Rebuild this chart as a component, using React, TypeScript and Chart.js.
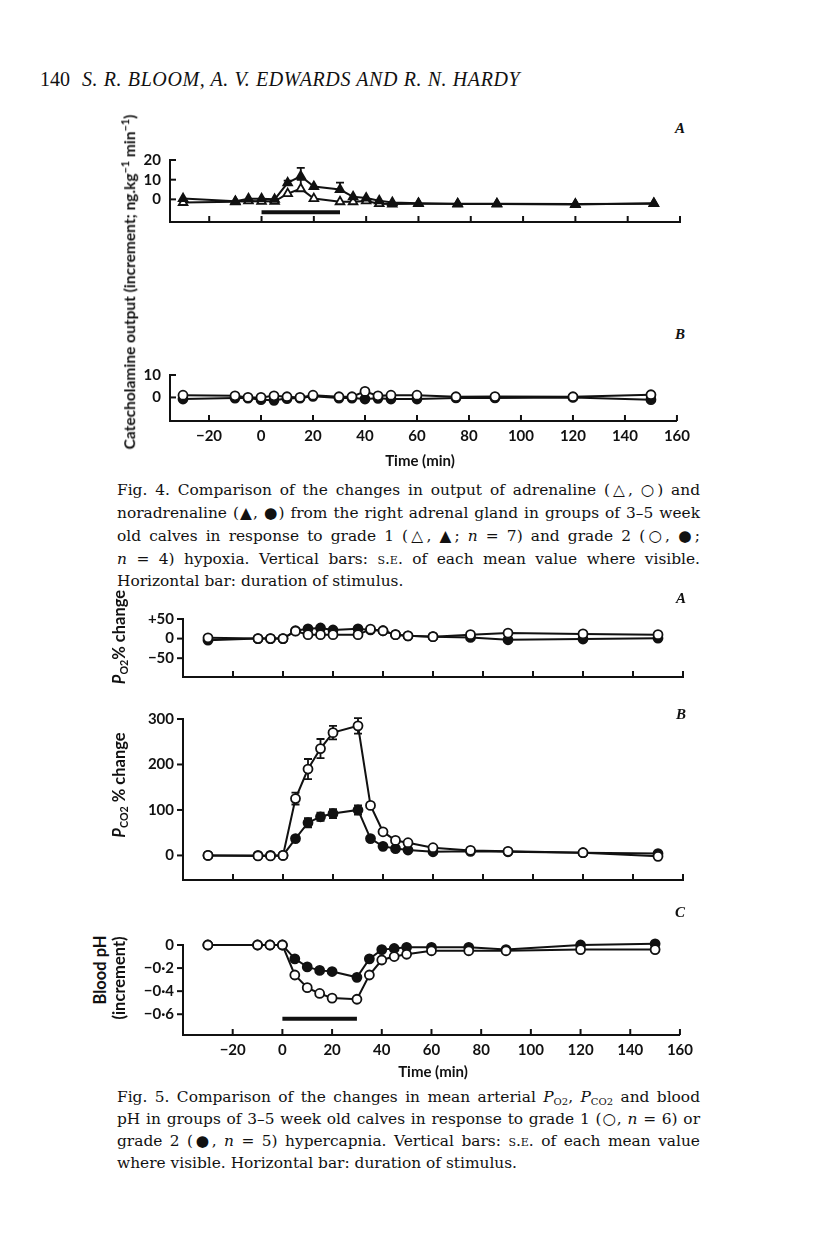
import React, { useEffect, useRef } from 'react';
import { Chart, registerables } from 'chart.js';
Chart.register(...registerables);

// ---------- DATA ----------
const times = [-30, -10, -5, 0, 5, 10, 15, 20, 30, 35, 40, 45, 50, 60, 75, 90, 120, 150];
const xTickValues = [-20, 0, 20, 40, 60, 80, 100, 120, 140, 160];
const xTickLabels = ['\u221220', '0', '20', '40', '60', '80', '100', '120', '140', '160'];
const stimulusStart = 0;
const stimulusEnd = 30;

// Fig 4A: grade 1 hypoxia (triangles)
const fig4aAdrenaline = [-1.6, -1.2, -0.8, -1, -1, 2.9, 5.4, 0.4, -1.2, -1.2, -0.8, -2.2, -2.4, -2.2, -2.2, -2.2, -2.4, -2.2];
const fig4aAdrenalineSe = [0, 0, 0, 0, 0, 0, 4.5, 0, 0, 0, 0, 0, 0, 0, 0, 0, 0, 0];
const fig4aNoradrenaline = [0.4, -1, 0.3, 0.3, 0, 8.4, 11.8, 6.5, 5, 1.3, 0.7, -0.7, -1.6, -2, -2.4, -2.4, -2.6, -2];
const fig4aNoradrenalineSe = [0, 0, 0, 0, 0, 1.1, 4.2, 0, 3.5, 0, 0, 0, 0, 0, 0, 0, 0, 0];
const fig4aStimulusY = -6.5;
const fig4aYTicks = [20, 10, 0];
const fig4aYLabels = ['20', '10', '0'];

// Fig 4B: grade 2 hypoxia (circles)
const fig4bAdrenaline = [1, 0.7, 0, 0, 0.7, 0.3, 0, 1, 0.3, 0.3, 2.7, 0.7, 1, 1, 0.3, 0.4, 0.3, 1.2];
const fig4bNoradrenaline = [-0.7, -0.3, -0.3, -1, -1.3, -0.5, -0.3, 0.5, -0.3, -0.3, -0.7, -0.4, -0.7, -0.7, -0.2, -0.2, 0, -1];
const fig4bYTicks = [10, 0];
const fig4bYLabels = ['10', '0'];

// Fig 5A: Po2 % change
const fig5aGrade1 = [2, 0, 0, 0, 19, 10, 10, 10, 10, 24, 20, 10, 7, 5, 10, 14, 12, 10];
const fig5aGrade2 = [-4, 0, 0, 0, 20, 25, 27, 22, 25, 22, 20, 10, 7, 5, 3, -3, -1, 1];
const fig5aYTicks = [50, 0, -50];
const fig5aYLabels = ['+50', '0', '\u221250'];

// Fig 5B: Pco2 % change
const fig5bGrade1 = [0, -1, -1, 0, 125, 190, 235, 270, 285, 110, 52, 33, 28, 17, 11, 9, 6, -2];
const fig5bGrade1Se = [0, 0, 0, 0, 13, 22, 21, 15, 17, 0, 0, 0, 0, 0, 0, 0, 0, 0];
const fig5bGrade2 = [0, 0, 0, 0, 37, 72, 85, 92, 100, 37, 20, 15, 12, 8, 9, 8, 6, 4];
const fig5bGrade2Se = [0, 0, 0, 0, 5, 10, 9, 10, 10, 0, 0, 0, 0, 0, 0, 0, 0, 0];
const fig5bYTicks = [300, 200, 100, 0];
const fig5bYLabels = ['300', '200', '100', '0'];

// Fig 5C: blood pH increment
const fig5cGrade1 = [0, 0, 0, 0, -0.26, -0.37, -0.42, -0.46, -0.47, -0.26, -0.13, -0.1, -0.08, -0.05, -0.05, -0.05, -0.04, -0.04];
const fig5cGrade2 = [0, 0, 0, 0, -0.12, -0.19, -0.22, -0.23, -0.28, -0.12, -0.04, -0.03, -0.02, -0.02, -0.02, -0.04, 0, 0.01];
const fig5cStimulusY = -0.64;
const fig5cYTicks = [0, -0.2, -0.4, -0.6];
const fig5cYLabels = ['0', '\u22120\u00b72', '\u22120\u00b74', '\u22120\u00b76'];

// ---------- CHART HELPERS ----------
const TICK_FONT = { family: 'Lato', size: 15, weight: 'bold' as const };

type Series = { values: number[]; se?: number[]; upOnly?: boolean; marker: 'openTri' | 'fillTri' | 'openCirc' | 'fillCirc' };
type PanelSpec = {
  left: number; top: number; right: number; bottom: number;
  xMin: number; xMax: number; yMin: number; yMax: number;
  yTicks: number[]; yLabels: string[]; yTickDir: 1 | -1;
  showXLabels: boolean;
  series: Series[];
  stimulusY?: number;
};

const Y_W = 60, PAD_T = 12, PAD_R = 16;

const inwardTicks = {
  id: 'inwardTicks',
  afterDraw(chart: any) {
    const { ctx, chartArea } = chart;
    const xs = chart.scales.x, ys = chart.scales.y;
    const dir = chart.options.plugins.inwardTicks.yDir;
    ctx.save();
    ctx.strokeStyle = '#111';
    ctx.lineWidth = 2;
    xs.ticks.forEach((t: any) => {
      const px = xs.getPixelForValue(t.value);
      ctx.beginPath();
      ctx.moveTo(px, chartArea.bottom);
      ctx.lineTo(px, chartArea.bottom - 6);
      ctx.stroke();
    });
    ys.ticks.forEach((t: any) => {
      const py = ys.getPixelForValue(t.value);
      ctx.beginPath();
      ctx.moveTo(chartArea.left, py);
      ctx.lineTo(chartArea.left + 6 * dir, py);
      ctx.stroke();
    });
    ctx.restore();
  },
};

const errorBars = {
  id: 'errorBars',
  afterDatasetsDraw(chart: any) {
    const { ctx } = chart;
    const ys = chart.scales.y;
    ctx.save();
    ctx.strokeStyle = '#111';
    ctx.lineWidth = 1.8;
    chart.data.datasets.forEach((ds: any, i: number) => {
      if (!ds.se) return;
      const meta = chart.getDatasetMeta(i);
      meta.data.forEach((pt: any, j: number) => {
        const e = ds.se[j];
        if (!e) return;
        const v = ds.data[j].y;
        const x = pt.x;
        const r = 4.5;
        const yTop = ys.getPixelForValue(v + e);
        ctx.beginPath();
        ctx.moveTo(x, pt.y - r);
        ctx.lineTo(x, yTop);
        ctx.moveTo(x - 4, yTop);
        ctx.lineTo(x + 4, yTop);
        if (!ds.upOnly) {
          const yBot = ys.getPixelForValue(v - e);
          ctx.moveTo(x, pt.y + r);
          ctx.lineTo(x, yBot);
          ctx.moveTo(x - 4, yBot);
          ctx.lineTo(x + 4, yBot);
        }
        ctx.stroke();
      });
    });
    ctx.restore();
  },
};

function makeDataset(s: Series) {
  const tri = s.marker === 'openTri' || s.marker === 'fillTri';
  const filled = s.marker === 'fillTri' || s.marker === 'fillCirc';
  return {
    data: times.map((t, i) => ({ x: t, y: s.values[i] })),
    se: s.se,
    upOnly: s.upOnly,
    borderColor: '#111',
    borderWidth: 2,
    pointStyle: tri ? 'triangle' : 'circle',
    pointRadius: tri ? 5 : 4.5,
    pointBackgroundColor: filled ? '#111' : '#fff',
    pointBorderColor: '#111',
    pointBorderWidth: 1.8,
    tension: 0,
    fill: false,
    clip: false,
  };
}

function PanelChart({ spec }: { spec: PanelSpec }) {
  const ref = useRef<HTMLCanvasElement>(null);
  const xH = spec.showXLabels ? 34 : 8;
  const width = spec.right - spec.left + Y_W + PAD_R;
  const height = spec.bottom - spec.top + PAD_T + xH;
  useEffect(() => {
    if (!ref.current) return;
    const datasets: any[] = spec.series.map(makeDataset);
    if (spec.stimulusY !== undefined) {
      datasets.push({
        data: [{ x: stimulusStart, y: spec.stimulusY }, { x: stimulusEnd, y: spec.stimulusY }],
        borderColor: '#111',
        borderWidth: 4,
        pointRadius: 0,
        fill: false,
      });
    }
    const chart = new Chart(ref.current, {
      type: 'line',
      data: { datasets },
      options: {
        animation: false,
        responsive: false,
        devicePixelRatio: 1,
        layout: { padding: { top: PAD_T, right: PAD_R, left: 0, bottom: 0 } },
        plugins: { legend: { display: false }, tooltip: { enabled: false }, inwardTicks: { yDir: spec.yTickDir } } as any,
        scales: {
          x: {
            type: 'linear',
            min: spec.xMin,
            max: spec.xMax,
            afterBuildTicks: (s: any) => { s.ticks = xTickValues.map((v) => ({ value: v })); },
            afterFit: (s: any) => { s.height = xH; },
            grid: { display: false, drawTicks: false },
            border: { display: true, color: '#111', width: 2 },
            ticks: {
              display: spec.showXLabels,
              padding: 6,
              color: '#111',
              font: TICK_FONT,
              maxRotation: 0,
              autoSkip: false,
              callback: (v: any) => { const k = xTickValues.indexOf(Number(v)); return k >= 0 ? xTickLabels[k] : ''; },
            },
          },
          y: {
            type: 'linear',
            min: spec.yMin,
            max: spec.yMax,
            afterBuildTicks: (s: any) => { s.ticks = spec.yTicks.map((v) => ({ value: v })); },
            afterFit: (s: any) => { s.width = Y_W; },
            grid: { display: false, drawTicks: false },
            border: { display: true, color: '#111', width: 2 },
            ticks: {
              padding: 9,
              color: '#111',
              font: TICK_FONT,
              autoSkip: false,
              callback: (v: any) => { const k = spec.yTicks.findIndex((t) => Math.abs(t - Number(v)) < 1e-9); return k >= 0 ? spec.yLabels[k] : ''; },
            },
          },
        },
      } as any,
      plugins: [inwardTicks, errorBars],
    });
    return () => chart.destroy();
  }, []);
  return (
    <canvas
      ref={ref}
      width={width}
      height={height}
      style={{ position: 'absolute', left: spec.left - Y_W, top: spec.top - PAD_T, width, height }}
    />
  );
}

// series order: index 0 is drawn on top
const fig4aSpec: PanelSpec = {
  left: 170, right: 680, top: 154, bottom: 232, xMin: -35, xMax: 160, yMin: -11.5, yMax: 20,
  yTicks: fig4aYTicks, yLabels: fig4aYLabels, yTickDir: 1, showXLabels: false,
  series: [
    { values: fig4aNoradrenaline, se: fig4aNoradrenalineSe, upOnly: true, marker: 'fillTri' },
    { values: fig4aAdrenaline, se: fig4aAdrenalineSe, upOnly: true, marker: 'openTri' },
  ],
  stimulusY: fig4aStimulusY,
};
const fig4bSpec: PanelSpec = {
  left: 170, right: 680, top: 369, bottom: 421, xMin: -35, xMax: 160, yMin: -10.5, yMax: 10,
  yTicks: fig4bYTicks, yLabels: fig4bYLabels, yTickDir: 1, showXLabels: true,
  series: [
    { values: fig4bAdrenaline, marker: 'openCirc' },
    { values: fig4bNoradrenaline, marker: 'fillCirc' },
  ],
};
const fig5aSpec: PanelSpec = {
  left: 183, right: 683, top: 613, bottom: 687, xMin: -40, xMax: 160, yMin: -98, yMax: 50,
  yTicks: fig5aYTicks, yLabels: fig5aYLabels, yTickDir: -1, showXLabels: false,
  series: [
    { values: fig5aGrade1, marker: 'openCirc' },
    { values: fig5aGrade2, marker: 'fillCirc' },
  ],
};
const fig5bSpec: PanelSpec = {
  left: 183, right: 683, top: 713, bottom: 890, xMin: -40, xMax: 160, yMin: -54, yMax: 300,
  yTicks: fig5bYTicks, yLabels: fig5bYLabels, yTickDir: -1, showXLabels: false,
  series: [
    { values: fig5bGrade1, se: fig5bGrade1Se, marker: 'openCirc' },
    { values: fig5bGrade2, se: fig5bGrade2Se, marker: 'fillCirc' },
  ],
};
const fig5cSpec: PanelSpec = {
  left: 183, right: 683, top: 939, bottom: 1035, xMin: -40, xMax: 160, yMin: -0.78, yMax: 0,
  yTicks: fig5cYTicks, yLabels: fig5cYLabels, yTickDir: -1, showXLabels: true,
  series: [
    { values: fig5cGrade1, marker: 'openCirc' },
    { values: fig5cGrade2, marker: 'fillCirc' },
  ],
  stimulusY: fig5cStimulusY,
};

// ---------- TEXT HELPERS ----------
const SANS = 'Lato, "DejaVu Sans", sans-serif';
const SERIF = '"DejaVu Serif", serif';

function VText({ x, y, children, size = 14 }: { x: number; y: number; children: React.ReactNode; size?: number }) {
  return (
    <div style={{
      position: 'absolute', left: x, top: y, transform: 'translate(-50%, -50%) rotate(-90deg)',
      whiteSpace: 'nowrap', fontFamily: SANS, fontWeight: 700, fontSize: size, color: '#111', lineHeight: 1,
    }}>{children}</div>
  );
}

function Label({ x, y, children, style }: { x: number; y: number; children: React.ReactNode; style?: React.CSSProperties }) {
  return (
    <div style={{ position: 'absolute', left: x, top: y, transform: 'translate(-50%, -50%)', whiteSpace: 'nowrap', color: '#111', lineHeight: 1, ...style }}>{children}</div>
  );
}

function CapLine({ y, children, last }: { y: number; children: React.ReactNode; last?: boolean }) {
  return (
    <div style={{
      position: 'absolute', left: 117, top: y - 11, width: 583, height: 22, lineHeight: '22px',
      fontFamily: SERIF, fontSize: 15.4, color: '#111', whiteSpace: 'nowrap',
      textAlign: last ? 'left' : 'justify', textAlignLast: last ? 'left' : 'justify',
    } as React.CSSProperties}>{children}</div>
  );
}

const sub = (t: string) => <sub style={{ fontSize: '65%', verticalAlign: '-0.3em' }}>{t}</sub>;
const SC = ({ children }: { children: React.ReactNode }) => <span style={{ fontVariant: 'small-caps' }}>{children}</span>;
const I = ({ children }: { children: React.ReactNode }) => <i>{children}</i>;

const letterStyle: React.CSSProperties = { fontFamily: '"Liberation Serif", serif', fontStyle: 'italic', fontWeight: 700, fontSize: 15 };

export default function App() {
  return (
    <div style={{ position: 'absolute', left: 0, top: 0, width: 816, height: 1238, background: '#fff', overflow: 'hidden' }}>
      {/* Header */}
      <div style={{ position: 'absolute', left: 40, top: 67, fontFamily: '"Liberation Serif", serif', fontSize: 20, color: '#111', whiteSpace: 'nowrap', lineHeight: '24px' }}>
        <span>140</span>
        <span style={{ fontStyle: 'italic', marginLeft: 12, letterSpacing: 0.6 }}>S. R. BLOOM, A. V. EDWARDS AND R. N. HARDY</span>
      </div>

      {/* Figure 4 */}
      <PanelChart spec={fig4aSpec} />
      <PanelChart spec={fig4bSpec} />
      <VText x={129} y={282} size={15.5}>Catecholamine output (increment; ng.kg<sup style={{ fontSize: '70%' }}>{'\u22121'}</sup> min<sup style={{ fontSize: '70%' }}>{'\u22121'}</sup>)</VText>
      <Label x={680} y={128} style={letterStyle}>A</Label>
      <Label x={680} y={334} style={letterStyle}>B</Label>
      <Label x={420} y={460} style={{ fontFamily: SANS, fontWeight: 700, fontSize: 15 }}>Time (min)</Label>

      <CapLine y={490}>Fig. 4. Comparison of the changes in output of adrenaline ({'\u25b3'}, {'\u25cb'}) and</CapLine>
      <CapLine y={513}>noradrenaline ({'\u25b2'}, {'\u25cf'}) from the right adrenal gland in groups of 3–5 week</CapLine>
      <CapLine y={536}>old calves in response to grade 1 ({'\u25b3'}, {'\u25b2'}; <I>n</I> = 7) and grade 2 ({'\u25cb'}, {'\u25cf'};</CapLine>
      <CapLine y={559}><I>n</I> = 4) hypoxia. Vertical bars: <SC>s.e.</SC> of each mean value where visible.</CapLine>
      <CapLine y={581} last>Horizontal bar: duration of stimulus.</CapLine>

      {/* Figure 5 */}
      <PanelChart spec={fig5aSpec} />
      <PanelChart spec={fig5bSpec} />
      <PanelChart spec={fig5cSpec} />
      <VText x={120} y={637} size={16.5}><I>P</I>{sub('O2')}% change</VText>
      <VText x={120} y={785} size={16.5}><I>P</I>{sub('CO2')} % change</VText>
      <VText x={100} y={970} size={16.5}>Blood pH</VText>
      <VText x={119} y={978} size={16.5}>(increment)</VText>
      <Label x={681} y={598} style={letterStyle}>A</Label>
      <Label x={681} y={714} style={letterStyle}>B</Label>
      <Label x={680} y={912} style={letterStyle}>C</Label>
      <Label x={433} y={1071} style={{ fontFamily: SANS, fontWeight: 700, fontSize: 15 }}>Time (min)</Label>

      <CapLine y={1097}>Fig. 5. Comparison of the changes in mean arterial <I>P</I>{sub('O2')}, <I>P</I>{sub('CO2')} and blood</CapLine>
      <CapLine y={1119}>pH in groups of 3–5 week old calves in response to grade 1 ({'\u25cb'}, <I>n</I> = 6) or</CapLine>
      <CapLine y={1141}>grade 2 ({'\u25cf'}, <I>n</I> = 5) hypercapnia. Vertical bars: <SC>s.e.</SC> of each mean value</CapLine>
      <CapLine y={1163} last>where visible. Horizontal bar: duration of stimulus.</CapLine>
    </div>
  );
}
